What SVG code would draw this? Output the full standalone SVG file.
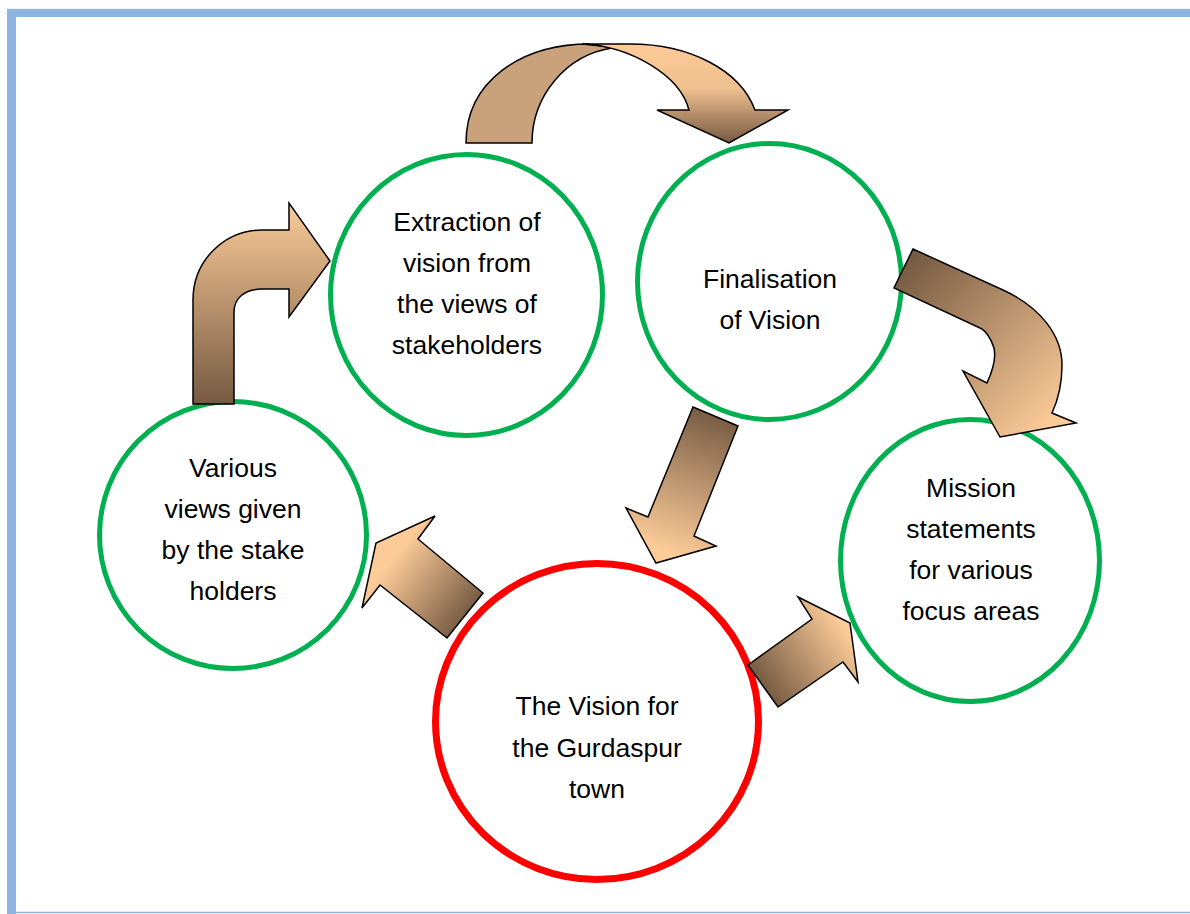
<svg xmlns="http://www.w3.org/2000/svg" width="1190" height="914" viewBox="0 0 1190 914">
<style>
.node{fill:#fff;stroke:#00b050;stroke-width:5}
.red{fill:#fff;stroke:#ff0000;stroke-width:7}
.lbl{font-family:"Liberation Sans",Arial,sans-serif;font-size:26.5px;fill:#000;text-anchor:middle}
.arr{stroke:#000;stroke-width:1.5;stroke-linejoin:miter}
</style>
<defs>
<linearGradient id="gTop" x1="0" y1="0" x2="0" y2="1"><stop offset="0" stop-color="#fccb98"/><stop offset="0.45" stop-color="#efbf8f"/><stop offset="1" stop-color="#755a42"/></linearGradient>
<linearGradient id="gBent" x1="0" y1="0" x2="0" y2="1"><stop offset="0" stop-color="#fccb98"/><stop offset="1" stop-color="#755a42"/></linearGradient>
<linearGradient id="gCurve" gradientUnits="userSpaceOnUse" x1="905" y1="262" x2="1060" y2="415"><stop offset="0" stop-color="#755a42"/><stop offset="1" stop-color="#fccb98"/></linearGradient>
<linearGradient id="gDown" gradientUnits="userSpaceOnUse" x1="718" y1="412" x2="668" y2="552"><stop offset="0" stop-color="#755a42"/><stop offset="1" stop-color="#fccb98"/></linearGradient>
<linearGradient id="gLeft" gradientUnits="userSpaceOnUse" x1="392" y1="560" x2="468" y2="618"><stop offset="0" stop-color="#fccb98"/><stop offset="1" stop-color="#755a42"/></linearGradient>
<linearGradient id="gRight" gradientUnits="userSpaceOnUse" x1="765" y1="692" x2="850" y2="635"><stop offset="0" stop-color="#755a42"/><stop offset="1" stop-color="#fccb98"/></linearGradient>
</defs>
<g id="border">
<rect x="7" y="9" width="1183" height="8" fill="#8db3e2"/>
<line x1="7" y1="9.3" x2="1190" y2="9.3" stroke="#a6b4c4" stroke-width="0.8"/>
<rect x="7" y="9" width="9" height="905" fill="#8db3e2"/>
<line x1="16" y1="912.5" x2="1190" y2="912.5" stroke="#8db3e2" stroke-width="1.5"/>
</g>
<g id="node-extraction">
<ellipse class="node" cx="466.5" cy="295" rx="136" ry="140.5"/>
<text class="lbl"><tspan x="467" y="231">Extraction of</tspan><tspan x="467" y="272">vision from</tspan><tspan x="467" y="313">the views of</tspan><tspan x="467" y="354">stakeholders</tspan></text>
</g>
<g id="node-finalisation">
<ellipse class="node" cx="769.5" cy="281.5" rx="132" ry="138"/>
<text class="lbl"><tspan x="770" y="288">Finalisation</tspan><tspan x="770" y="329">of Vision</tspan></text>
</g>
<g id="node-various">
<ellipse class="node" cx="233" cy="535" rx="133.5" ry="133.5"/>
<text class="lbl"><tspan x="233" y="477">Various</tspan><tspan x="233" y="518">views given</tspan><tspan x="233" y="559">by the stake</tspan><tspan x="233" y="600">holders</tspan></text>
</g>
<g id="node-mission">
<ellipse class="node" cx="970" cy="560.5" rx="129.5" ry="141"/>
<text class="lbl"><tspan x="971" y="497">Mission</tspan><tspan x="971" y="538">statements</tspan><tspan x="971" y="579">for various</tspan><tspan x="971" y="620">focus areas</tspan></text>
</g>
<g id="node-vision">
<ellipse class="red" cx="597" cy="721.5" rx="161.5" ry="158"/>
<text class="lbl"><tspan x="597" y="715">The Vision for</tspan><tspan x="597" y="757">the Gurdaspur</tspan><tspan x="597" y="798">town</tspan></text>
</g>
<g id="connectors">
<path class="arr" fill="#c9a27b" d="M466,143 C466,82 520,44 590,44 L582,44 C595,45 604,46 612,48 C566,55 532,96 532,143 Z"/>
<path class="arr" fill="url(#gTop)" d="M582,44 L630,44 C690,44 740,70 755,110 L788,110 L729,143 L657,110 L689,110 C680,75 630,46 582,44 Z"/>
<path class="arr" fill="url(#gBent)" d="M193,404 L193,300 C193,260 225,230 262,230 L289,230 L289,203 L330,261 L289,317 L289,289 L262,289 C245,289 234,298 234,312 L234,404 Z"/>
<path class="arr" fill="url(#gCurve)" d="M913,249 L1003,290 C1040,307 1062,335 1062,365 C1062,385 1058,400 1052,413 L1076,423 L1000,437 L963,371 L987,383 C993,370 996,357 994,348 C991,338 985,330 980,328 L894,288 Z"/>
<path class="arr" fill="url(#gDown)" d="M693,407 L738,426 L694,536 L716,546 L656,563 L626,508 L648,517 Z"/>
<path class="arr" fill="url(#gLeft)" d="M435,516 L418,539 L483,593 L447,638 L380,585 L362,608 L376,543 Z"/>
<path class="arr" fill="url(#gRight)" d="M748,665 L812,619 L798,597 L850,623 L858,682 L843,662 L778,707 Z"/>
</g>
</svg>
